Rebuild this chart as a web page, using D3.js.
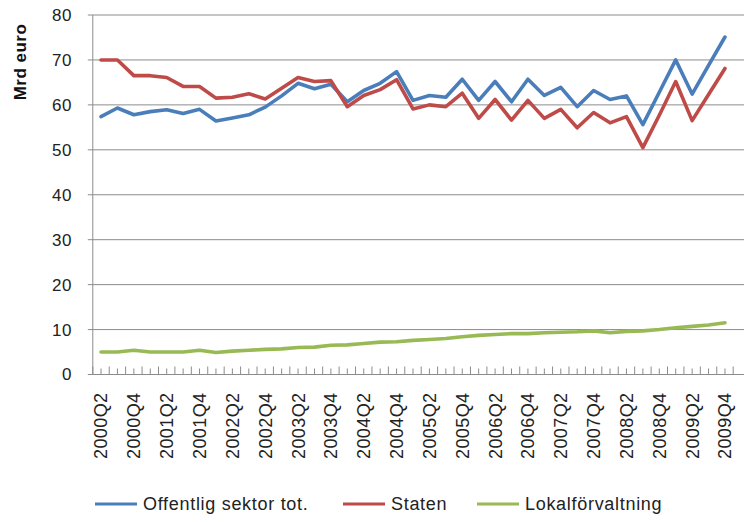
<!DOCTYPE html>
<html><head><meta charset="utf-8">
<script src="https://cdn.jsdelivr.net/npm/d3@7"></script>
<style>
html,body{margin:0;padding:0;background:#fff;}
svg{display:block;font-family:"Liberation Sans",Arial,sans-serif;}
</style></head>
<body>
<svg id="c" width="744" height="522"></svg>
<script>
const quarters = ["2000Q2","2000Q3","2000Q4",
 "2001Q1","2001Q2","2001Q3","2001Q4",
 "2002Q1","2002Q2","2002Q3","2002Q4",
 "2003Q1","2003Q2","2003Q3","2003Q4",
 "2004Q1","2004Q2","2004Q3","2004Q4",
 "2005Q1","2005Q2","2005Q3","2005Q4",
 "2006Q1","2006Q2","2006Q3","2006Q4",
 "2007Q1","2007Q2","2007Q3","2007Q4",
 "2008Q1","2008Q2","2008Q3","2008Q4",
 "2009Q1","2009Q2","2009Q3","2009Q4"];

const offentlig = [57.4,59.3,57.8,58.5,58.9,58.1,59.0,56.4,57.1,57.8,59.5,62.0,64.8,63.6,64.6,60.7,63.2,64.8,67.4,
  61.0,62.1,61.7,65.7,61.0,65.2,60.7,65.7,62.1,63.9,59.6,63.2,61.2,62.0,55.6,62.8,70.0,62.4,68.8,75.1];
const staten = [70.0,70.0,66.5,66.5,66.1,64.1,64.1,61.5,61.7,62.5,61.3,63.7,66.1,65.2,65.4,59.6,62.1,63.4,65.6,
  59.1,60.0,59.6,62.6,57.0,61.2,56.6,61.0,57.0,59.0,54.9,58.3,56.0,57.4,50.5,57.7,65.2,56.5,62.3,68.1];
const lokal = [5.0,5.0,5.4,5.0,5.0,5.0,5.4,4.9,5.2,5.4,5.6,5.7,6.0,6.1,6.5,6.6,6.9,7.2,7.3,
  7.6,7.8,8.0,8.4,8.7,8.9,9.1,9.1,9.3,9.4,9.5,9.7,9.3,9.6,9.7,10.0,10.4,10.7,11.0,11.5];
const yTicks = [0,10,20,30,40,50,60,70,80];
const seriesNames = ["Offentlig sektor tot.","Staten","Lokalförvaltning"];
const seriesColors = ["#4A7EBB","#BE4B48","#98B954"];
const seriesData = [offentlig, staten, lokal];

(function(){
const svg = d3.select("#c");
const pl = 92.8, bw = 16.42, pt = 15, pb = 374.5;
const pr = pl + 40*bw;

const x = d3.scaleBand().domain(quarters).range([pl, pl + quarters.length*bw]).paddingInner(0).paddingOuter(0);
const y = d3.scaleLinear().domain([0,80]).range([pb, pt]);
const cx = d => x(d) + x.bandwidth()/2;

svg.append("g").selectAll("line").data(yTicks.filter(t=>t>0)).join("line")
  .attr("x1", pl-5).attr("x2", pr)
  .attr("y1", d=>y(d)).attr("y2", d=>y(d))
  .attr("stroke","#8c8c8c").attr("stroke-width",1);

svg.append("line").attr("x1",pl).attr("x2",pl).attr("y1",pt).attr("y2",pb)
  .attr("stroke","#8c8c8c").attr("stroke-width",1);
svg.append("line").attr("x1",pl-5).attr("x2",pr).attr("y1",pb).attr("y2",pb)
  .attr("stroke","#8c8c8c").attr("stroke-width",1.2);

const bounds = quarters.map(q => x(q)).concat([pl + quarters.length*bw, pr]);
svg.append("g").selectAll("line").data(bounds).join("line")
  .attr("x1", d=>d).attr("x2", d=>d).attr("y1", pb-8).attr("y2", pb)
  .attr("stroke","#8c8c8c").attr("stroke-width",1);
svg.append("g").selectAll("line").data(quarters).join("line")
  .attr("x1", d=>cx(d)).attr("x2", d=>cx(d)).attr("y1", pb-6).attr("y2", pb)
  .attr("stroke","#8c8c8c").attr("stroke-width",1);

svg.append("g").selectAll("text").data(yTicks).join("text")
  .attr("x", 72).attr("y", d=>y(d)).attr("dy","0.35em")
  .attr("text-anchor","end").attr("font-size",17).attr("fill","#222")
  .attr("letter-spacing","0.5px")
  .text(d=>d);

svg.append("text").attr("transform","translate(26,62) rotate(-90)")
  .attr("text-anchor","middle").attr("font-size",17).attr("font-weight","bold").attr("fill","#111")
  .attr("letter-spacing","0.5px")
  .text("Mrd euro");

svg.append("g").selectAll("text").data(quarters.filter((q,i)=>i%2===0)).join("text")
  .attr("transform", d=>`translate(${cx(d)},${pb+18}) rotate(-90)`)
  .attr("dy","0.36em").attr("text-anchor","end").attr("font-size",18).attr("fill","#222")
  .attr("letter-spacing","0.4px")
  .text(d=>d);

const line = d3.line().x((d,i)=>cx(quarters[i])).y(d=>y(d));
seriesData.forEach((s,k)=>{
  svg.append("path").datum(s).attr("d",line).attr("fill","none")
    .attr("stroke",seriesColors[k]).attr("stroke-width",3.6)
    .attr("stroke-linejoin","round").attr("stroke-linecap","round");
});

const legX = [95, 343, 477];
const lg = svg.append("g");
seriesNames.forEach((n,k)=>{
  lg.append("line").attr("x1",legX[k]).attr("x2",legX[k]+42).attr("y1",504).attr("y2",504)
    .attr("stroke",seriesColors[k]).attr("stroke-width",3);
  lg.append("text").attr("x",legX[k]+48).attr("y",504).attr("dy","0.35em")
    .attr("font-size",18).attr("fill","#222").attr("letter-spacing","0.7px").text(n);
});
})();
</script>
</body></html>
